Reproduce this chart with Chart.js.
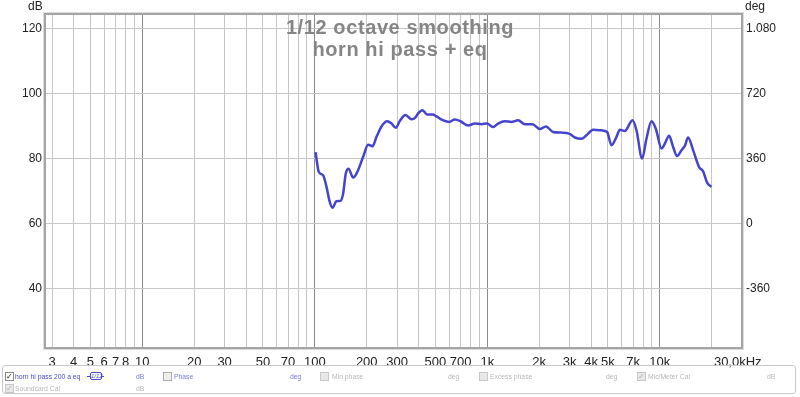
<!DOCTYPE html>
<html><head><meta charset="utf-8">
<script src="https://cdn.jsdelivr.net/npm/chart.js@4/dist/chart.umd.min.js"></script>
<style>
html,body{margin:0;padding:0;background:#fff;}
#wrap{position:relative;width:800px;height:397px;font-family:"Liberation Sans",Arial,sans-serif;overflow:hidden}
canvas{position:absolute;left:0;top:0;}
.lg{position:absolute;left:2px;top:365px;width:794px;height:29px;border:1px solid #c8c8c8;border-radius:3px;box-sizing:border-box}
.t{position:absolute;font-size:6.8px;white-space:nowrap;line-height:9px}
.cb{position:absolute;width:9px;height:9px;box-sizing:border-box;border:1px solid #8a8a8a;background:#fff;font-size:8px;line-height:8px;text-align:center;color:#222}
.cb.dis{border-color:#c8c8c8;background:#e8e8e8;color:#b0b0b0}
.blue{color:#4a4ad0}
.lblue{color:#7a7ae0}
.gray{color:#b8b8b8}
</style></head>
<body>
<div id="wrap">
<canvas id="c" width="800" height="397"></canvas>
<div class="lg"></div>
<div class="cb" style="left:5px;top:372px">✓</div>
<div class="t blue" style="left:15px;top:372px">horn hi pass 200 a eq</div>
<div style="position:absolute;left:87px;top:376px;width:17px;height:1px;background:#4a4ad0"></div>
<div style="position:absolute;left:90px;top:372px;width:12px;height:8px;box-sizing:border-box;border:1px solid #4a4ad0;border-radius:2px;background:#fff;font-size:6px;line-height:6px;text-align:center;color:#4a4ad0;font-style:italic">1/12</div>
<div class="t lblue" style="left:136px;top:372px">dB</div>
<div class="cb dis" style="left:163px;top:372px;background:#eee;border-color:#aaa"></div>
<div class="t lblue" style="left:174px;top:372px">Phase</div>
<div class="t lblue" style="left:290px;top:372px">deg</div>
<div class="cb dis" style="left:320px;top:372px"></div>
<div class="t gray" style="left:332px;top:372px">Min phase</div>
<div class="t gray" style="left:448px;top:372px">deg</div>
<div class="cb dis" style="left:479px;top:372px"></div>
<div class="t gray" style="left:490px;top:372px">Excess phase</div>
<div class="t gray" style="left:606px;top:372px">deg</div>
<div class="cb dis" style="left:637px;top:372px">✓</div>
<div class="t gray" style="left:648px;top:372px">Mic/Meter Cal</div>
<div class="t gray" style="left:767px;top:372px">dB</div>
<div class="cb dis" style="left:5px;top:384px">✓</div>
<div class="t gray" style="left:15px;top:384px">Soundcard Cal</div>
<div class="t gray" style="left:136px;top:384px">dB</div>
</div>
<script>
// ---- data ----
const freqHz = [101,105.5,111.7,116.9,122.1,126.6,133.6,140.9,145.9,151.2,156.8,166.7,174.5,190.5,203.7,216,227.9,243.6,262.4,278.4,294.8,311.1,335.7,363.6,385,397,421,447.7,481.2,507.6,542.7,600.6,648,699,774,846,925,997,1080,1155,1263,1381,1509,1650,1828,2016,2184,2407,2692,2980,3216,3516,3758,4105,4592,4949,5248,5610,5864,6268,6946,7327,7898,8375,8951,9481,10233,10691,11324,11945,12598,13362,13964,14594,15597,16898,17825,18801,19936];
const splDb = [81.9,75.8,74.8,71.2,66.6,64.8,66.8,66.9,69.1,75.3,76.8,74.1,75.3,80.4,84.2,83.7,86.6,89.8,91.4,90.7,89.4,91.5,93.3,92.0,92.7,93.8,94.8,93.5,93.5,92.9,91.9,91.2,91.9,91.4,90.1,90.7,90.5,90.7,89.6,90.7,91.4,91.2,91.7,90.5,90.5,89.0,89.8,88.1,87.9,87.6,86.4,86.0,87.1,88.8,88.6,88.1,84.0,86.6,88.8,88.4,91.7,88.6,79.9,86.1,91.4,89.1,83.0,84.5,86.9,83.5,80.7,82.5,83.8,86.4,82.5,77.3,76.0,72.5,71.2];
const xGridValues = [3,4,5,6,7,8,9,10,20,30,40,50,60,70,80,90,100,200,300,400,500,600,700,800,900,1000,2000,3000,4000,5000,6000,7000,8000,9000,10000,20000];
const xTickLabels = {3:'3',4:'4',5:'5',6:'6',7:'7',8:'8',10:'10',20:'20',30:'30',50:'50',70:'70',100:'100',200:'200',300:'300',500:'500',700:'700',1000:'1k',2000:'2k',3000:'3k',4000:'4k',5000:'5k',7000:'7k',10000:'10k'};
const xMaxLabel = '30,0kHz';
const yTicksDb = [40,60,80,100,120];
const yTicksDeg = [-360,0,360,720,1080];
const yDegLabels = {'-360':'-360','0':'0','360':'360','720':'720','1080':'1.080'};
const titleLines = ['1/12 octave smoothing','horn hi pass + eq'];
const X_MIN = 2.765, X_MAX = 29560;
const Y_MIN = 21.94, Y_MAX = 124.09;

const FONT = '"Liberation Sans", Arial, sans-serif';

const framePlugin = {
  id: 'frame',
  afterDraw(chart) {
    const {ctx, chartArea: a} = chart;
    ctx.save();
    ctx.strokeStyle = '#dcdcdc'; ctx.lineWidth = 1;
    ctx.strokeRect(a.left - 2.5, a.top - 2.5, a.right - a.left + 5, a.bottom - a.top + 5);
    ctx.strokeStyle = '#a4a4a4'; ctx.lineWidth = 2;
    ctx.strokeRect(a.left - 1, a.top - 1, a.right - a.left + 2, a.bottom - a.top + 2);
    // titles
    ctx.fillStyle = '#858585';
    ctx.font = 'bold 20px ' + FONT;
    ctx.textAlign = 'center'; ctx.textBaseline = 'alphabetic';
    try { ctx.letterSpacing = '0.6px'; } catch(e) {}
    ctx.fillText(titleLines[0], 400, 33.5);
    ctx.fillText(titleLines[1], 400, 55.5);
    try { ctx.letterSpacing = '0px'; } catch(e) {}
    // units
    ctx.fillStyle = '#222';
    ctx.font = '12px ' + FONT;
    ctx.textAlign = 'left'; ctx.textBaseline = 'alphabetic';
    ctx.fillText('dB', 28, 10);
    ctx.fillText('deg', 745, 10);
    ctx.restore();
  }
};

new Chart(document.getElementById('c'), {
  type: 'line',
  data: {
    datasets: [{
      data: freqHz.map((f, i) => ({x: f, y: splDb[i]})),
      borderColor: '#4444cc',
      borderWidth: 2.5,
      pointRadius: 0,
      cubicInterpolationMode: 'monotone',
      fill: false,
      yAxisID: 'y'
    }]
  },
  options: {
    responsive: false,
    animation: false,
    devicePixelRatio: 1,
    layout: {padding: {top: 15, left: 0, right: 0, bottom: 0}},
    plugins: {legend: {display: false}, tooltip: {enabled: false}},
    scales: {
      x: {
        type: 'logarithmic', min: X_MIN, max: X_MAX,
        afterBuildTicks: s => { s.ticks = xGridValues.concat([X_MAX]).map(v => ({value: v})); },
        afterFit: s => { s.height = 50; },
        ticks: {
          autoSkip: false, maxRotation: 0, minRotation: 0, padding: 8,
          color: '#222', font: {size: 13, family: FONT},
          callback: (v) => v === X_MAX ? xMaxLabel + '\u2002' : (xTickLabels[v] || '')
        },
        grid: {
          drawTicks: false, lineWidth: 1,
          color: c => {
            const v = c.tick && c.tick.value;
            if (v === X_MAX) return 'rgba(0,0,0,0)';
            return [10,100,1000,10000].includes(v) ? '#8a8a8a' : '#c6c6c6';
          }
        },
        border: {display: false}
      },
      y: {
        type: 'linear', position: 'left', min: Y_MIN, max: Y_MAX,
        afterBuildTicks: s => { s.ticks = yTicksDb.map(v => ({value: v})); },
        afterFit: s => { s.width = 46; },
        ticks: {padding: 4, color: '#222', font: {size: 12, family: FONT}, callback: v => String(v)},
        grid: {drawTicks: false, color: '#c6c6c6', lineWidth: 1},
        border: {display: false}
      },
      y2: {
        type: 'linear', position: 'right', min: (Y_MIN - 60) * 18, max: (Y_MAX - 60) * 18,
        afterBuildTicks: s => { s.ticks = yTicksDeg.map(v => ({value: v})); },
        afterFit: s => { s.width = 59; },
        ticks: {padding: 5, color: '#222', font: {size: 12, family: FONT}, callback: v => yDegLabels[String(v)]},
        grid: {display: false, drawTicks: false},
        border: {display: false}
      }
    }
  },
  plugins: [framePlugin]
});
</script>
</body></html>
